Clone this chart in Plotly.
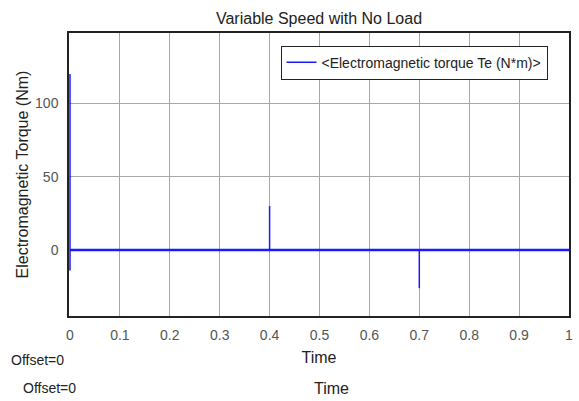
import plotly.graph_objects as go

# Baseline (steady-state) torque
time_base = [0.0, 0.4, 0.7, 1.0]
torque_base = [0.0, 0.0, 0.0, 0.0]
# Transient spikes at start, speed changes
time_spike = [0.0, 0.0, 0.0, None, 0.4, 0.4, None, 0.7, 0.7]
torque_spike = [0.0, 120.0, -14.0, None, 0.0, 30.0, None, 0.0, -26.0]

x_ticks = [0, 0.1, 0.2, 0.3, 0.4, 0.5, 0.6, 0.7, 0.8, 0.9, 1]
x_tick_labels = ["0", "0.1", "0.2", "0.3", "0.4", "0.5", "0.6", "0.7", "0.8", "0.9", "1"]
y_ticks = [0, 50, 100]

FONT = "Liberation Sans, Arial, sans-serif"
BLUE = "#1a1aff"

fig = go.Figure()
fig.add_trace(go.Scatter(
    x=time_base, y=torque_base, mode="lines",
    line=dict(color=BLUE, width=2.5), showlegend=False, hoverinfo="skip",
))
fig.add_trace(go.Scatter(
    x=time_spike, y=torque_spike, mode="lines",
    line=dict(color=BLUE, width=1.5),
    name="&lt;Electromagnetic torque Te (N*m)&gt;",
))

fig.update_layout(
    width=579, height=401,
    margin=dict(l=69, r=10, t=33, b=85),
    paper_bgcolor="white", plot_bgcolor="white",
    font=dict(family=FONT, size=12, color="#333333"),
    title=dict(text="Variable Speed with No Load", x=0.551, xanchor="center",
               y=0.955, yanchor="middle", font=dict(size=16, color="#222222")),
    showlegend=True,
    legend=dict(x=0.423, y=0.955, xanchor="left", yanchor="top",
                bordercolor="#222222", borderwidth=1, bgcolor="white",
                font=dict(size=14, color="#222222")),
    xaxis=dict(range=[-0.002, 1], tickvals=x_ticks, ticktext=x_tick_labels,
               showgrid=True, gridcolor="#a8a8a8", gridwidth=1,
               showline=True, linecolor="#222222", mirror=True, linewidth=1.5,
               zeroline=False, ticks="", ticklabelstandoff=5, automargin=False,
               layer="below traces",
               tickfont=dict(size=14, color="#555555"),
               title=dict(text="Time", standoff=10, font=dict(size=16, color="#222222"))),
    yaxis=dict(range=[-45, 148], tickvals=y_ticks,
               showgrid=True, gridcolor="#a8a8a8", gridwidth=1,
               showline=True, linecolor="#222222", mirror=True, linewidth=1.5,
               zeroline=False, ticks="", ticklabelstandoff=6, automargin=False,
               layer="below traces",
               tickfont=dict(size=14, color="#555555"),
               title=dict(text="Electromagnetic Torque (Nm)", standoff=2,
                          font=dict(size=16, color="#222222"))),
)

fig.add_annotation(text="Offset=0", xref="paper", yref="paper", x=-0.12, y=-0.155,
                   xanchor="left", yanchor="middle", showarrow=False,
                   font=dict(size=14, color="#222222"))
fig.add_annotation(text="Offset=0", xref="paper", yref="paper", x=-0.096, y=-0.255,
                   xanchor="left", yanchor="middle", showarrow=False,
                   font=dict(size=14, color="#222222"))
fig.add_annotation(text="Time", xref="paper", yref="paper", x=0.525, y=-0.255,
                   xanchor="center", yanchor="middle", showarrow=False,
                   font=dict(size=16, color="#222222"))

fig.write_html("out.html")
